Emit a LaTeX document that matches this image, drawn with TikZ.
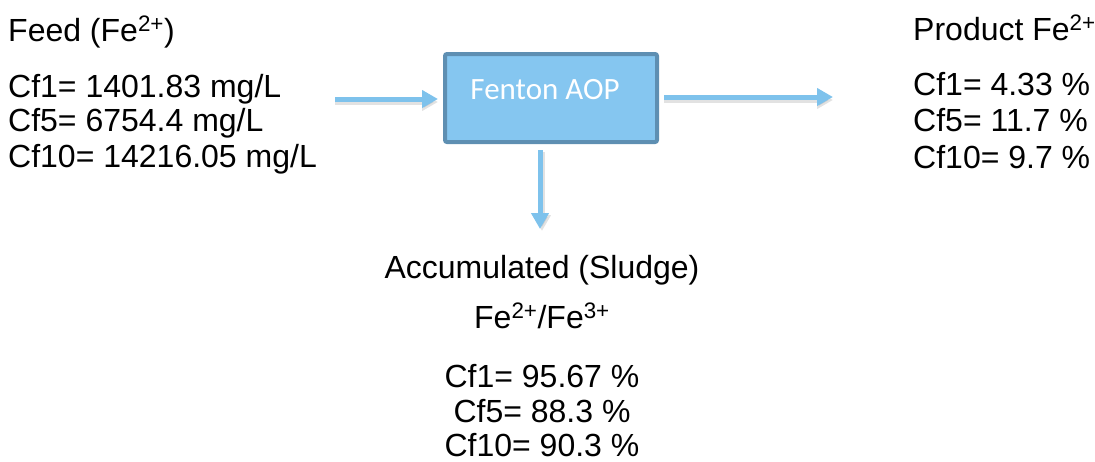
\documentclass[tikz,border=0pt]{standalone}
\usepackage{fontspec}
\setmainfont{Liberation Sans}
\newfontfamily\calibrifont{Carlito}
\usetikzlibrary{arrows.meta}
\definecolor{boxfill}{HTML}{85C6F0}
\definecolor{boxedge}{HTML}{5E8FB2}
\definecolor{arrowcol}{HTML}{7EC2EC}
\tikzset{
  txt/.style={inner sep=0pt, font=\fontsize{32}{36}\selectfont, text=black},
  flow/.style={draw=arrowcol, line width=5pt, -{Triangle[width=17pt,length=16pt]}},
  flowshadow/.style={draw=black!45, opacity=0.25, line width=5pt, -{Triangle[width=17pt,length=16pt]}},
  procbox/.style={draw=boxedge, fill=boxfill, line width=4pt, rounded corners=2pt,
    minimum width=212pt, minimum height=88pt, inner sep=0pt}
}
\begin{document}
\begin{tikzpicture}[x=1pt,y=-1pt]
\useasboundingbox (0,0) rectangle (1095,461);
% process box
\node[procbox] (box) at (551,98) {};
\node[inner sep=0pt, font=\calibrifont\fontsize{31}{35}\selectfont, text=white] (boxlabel) at (545,90) {Fenton AOP};
% feed text
\node[txt, anchor=base west] (feedtitle) at (8,41) {Feed (Fe\textsuperscript{2+})};
\node[txt, anchor=base west] (feed1) at (8,97) {Cf1= 1401.83 mg/L};
\node[txt, anchor=base west] (feed5) at (8,131.5) {Cf5= 6754.4 mg/L};
\node[txt, anchor=base west] (feed10) at (8,167) {Cf10= 14216.05 mg/L};
% product text
\node[txt, anchor=base west] (prodtitle) at (913,40) {Product Fe\textsuperscript{2+}};
\node[txt, anchor=base west] (prod1) at (913,95) {Cf1= 4.33 \%};
\node[txt, anchor=base west] (prod5) at (913,131) {Cf5= 11.7 \%};
\node[txt, anchor=base west] (prod10) at (913,168) {Cf10= 9.7 \%};
% sludge text
\node[txt, anchor=base] (acctitle) at (542,278) {Accumulated (Sludge)};
\node[txt, anchor=base] (accion) at (542,328) {Fe\textsuperscript{2+}/Fe\textsuperscript{3+}};
\node[txt, anchor=base] (acc1) at (542,387) {Cf1= 95.67 \%};
\node[txt, anchor=base] (acc5) at (542,422) {Cf5= 88.3 \%};
\node[txt, anchor=base] (acc10) at (542,456) {Cf10= 90.3 \%};
% arrow endpoints
\coordinate (feedin) at (335,99);
\coordinate (prodout) at (833,97);
\coordinate (sludgeout) at (540,229);
\coordinate (boxin) at (438,99);
\coordinate (boxout) at (664,97);
\coordinate (boxdown) at (540,150);
% shadows
\draw[flowshadow] ([yshift=-3pt]feedin) -- ([yshift=-3pt]boxin);
\draw[flowshadow] ([yshift=-3pt]boxout) -- ([yshift=-3pt]prodout);
\draw[flowshadow] ([xshift=2pt,yshift=-2pt]boxdown) -- ([xshift=2pt,yshift=-2pt]sludgeout);
% arrows
\draw[flow] (feedin) -- (boxin);
\draw[flow] (boxout) -- (prodout);
\draw[flow] (boxdown) -- (sludgeout);
\end{tikzpicture}
\end{document}
